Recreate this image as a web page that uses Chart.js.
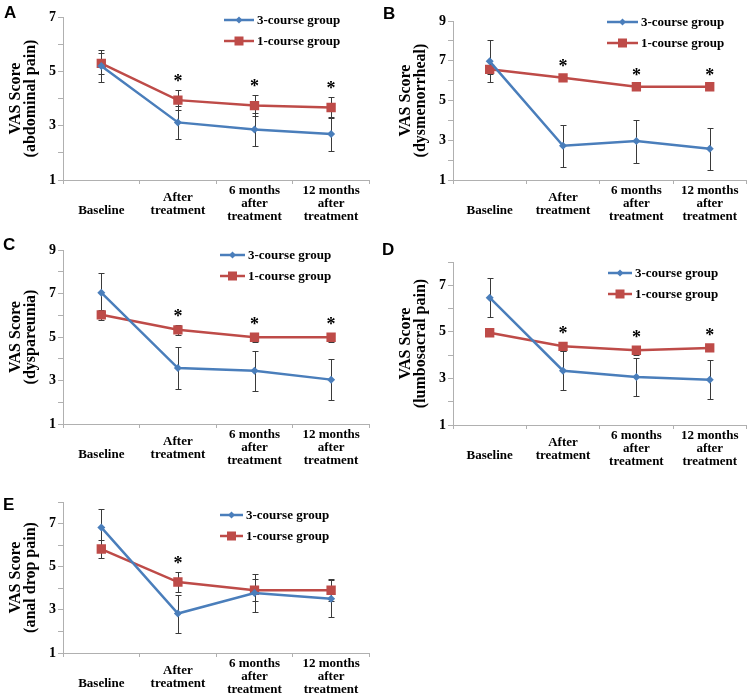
<!DOCTYPE html>
<html>
<head>
<meta charset="utf-8">
<script src="https://cdn.jsdelivr.net/npm/chart.js@4"></script>
<style>
  body { margin: 0; background: #fff; width: 753px; height: 695px; position: relative; overflow: hidden; }
  canvas { position: absolute; }
</style>
</head>
<body>
<canvas id="chartA" width="376" height="230" style="left:0;top:0"></canvas>
<canvas id="chartB" width="377" height="230" style="left:376px;top:0"></canvas>
<canvas id="chartC" width="376" height="240" style="left:0;top:230px"></canvas>
<canvas id="chartD" width="377" height="240" style="left:376px;top:230px"></canvas>
<canvas id="chartE" width="376" height="225" style="left:0;top:470px"></canvas>
<script>
// x categories (shared by all panels)
const categories = ['Baseline', ['After', 'treatment'], ['6 months', 'after', 'treatment'], ['12 months', 'after', 'treatment']];
const seriesNames = ['3-course group', '1-course group'];

// A: abdominal pain
const abdominal3 = [5.20, 3.12, 2.86, 2.69];
const abdominal3Err = [0.60, 0.60, 0.60, 0.62];
const abdominal1 = [5.29, 3.94, 3.74, 3.67];
const abdominal1Err = [0.40, 0.37, 0.39, 0.37];

// B: dysmenorrheal
const dysmen3 = [6.97, 2.72, 2.96, 2.57];
const dysmen3Err = [1.05, 1.05, 1.08, 1.07];
const dysmen1 = [6.57, 6.14, 5.69, 5.69];
const dysmen1Err = [0.22, 0.15, 0.15, 0.15];

// C: dyspareunia
const dyspar3 = [7.04, 3.57, 3.45, 3.04];
const dyspar3Err = [0.92, 0.95, 0.92, 0.95];
const dyspar1 = [6.02, 5.33, 4.99, 4.99];
const dyspar1Err = [0.23, 0.23, 0.20, 0.20];

// D: lumbosacral pain
const lumbo3 = [6.47, 3.33, 3.06, 2.94];
const lumbo3Err = [0.84, 0.83, 0.83, 0.84];
const lumbo1 = [4.96, 4.38, 4.21, 4.31];
const lumbo1Err = [0.15, 0.20, 0.20, 0.15];

// E: anal drop pain
const anal3 = [6.82, 2.83, 3.78, 3.52];
const anal3Err = [0.87, 0.88, 0.90, 0.87];
const anal1 = [5.82, 4.29, 3.91, 3.91];
const anal1Err = [0.43, 0.45, 0.50, 0.50];

// which time points carry a significance star
const starsAll = [false, true, true, true];
const starsAfterOnly = [false, true, false, false];

const BLUE = '#4a7ebb';
const RED = '#be4b48';
const AXIS = '#b0b0b0';
const SERIF = "'Liberation Serif', 'Times New Roman', serif";

function makePanel(id, opts) {
  const canvas = document.getElementById(id);
  const ctx = canvas.getContext('2d');

  const extras = {
    id: 'extras_' + id,
    beforeDatasetsDraw(chart) {
      // error bars
      const c = chart.ctx;
      const y = chart.scales.y;
      c.save();
      c.strokeStyle = '#3a3a3a';
      c.lineWidth = 1;
      chart.data.datasets.forEach((ds, di) => {
        const meta = chart.getDatasetMeta(di);
        meta.data.forEach((pt, i) => {
          const e = opts.errors[di][i];
          const top = Math.round(y.getPixelForValue(ds.data[i] + e)) + 0.5;
          const bot = Math.round(y.getPixelForValue(ds.data[i] - e)) + 0.5;
          const x = Math.round(pt.x) + 0.5;
          c.beginPath();
          c.moveTo(x, top); c.lineTo(x, bot);
          c.moveTo(x - 3, top); c.lineTo(x + 3, top);
          c.moveTo(x - 3, bot); c.lineTo(x + 3, bot);
          c.stroke();
        });
      });
      c.restore();
    },
    afterDraw(chart) {
      const c = chart.ctx;
      const y = chart.scales.y;
      c.save();
      // significance stars above the 1-course error bar
      c.fillStyle = '#000';
      c.font = 'bold 18px ' + SERIF;
      c.textAlign = 'center';
      c.textBaseline = 'alphabetic';
      const meta = chart.getDatasetMeta(1);
      opts.stars.forEach((s, i) => {
        if (!s) return;
        const v = opts.data[1][i] + opts.errors[1][i];
        c.fillText('*', meta.data[i].x, y.getPixelForValue(v) - 3);
      });

      // legend
      const lg = opts.legend;
      c.font = 'bold 13px ' + SERIF;
      c.textAlign = 'left';
      c.textBaseline = 'middle';
      [BLUE, RED].forEach((col, k) => {
        const ry = lg.y + k * 21;
        c.strokeStyle = col;
        c.lineWidth = 2.5;
        c.beginPath();
        c.moveTo(lg.x, ry); c.lineTo(lg.x + lg.len, ry);
        c.stroke();
        c.fillStyle = col;
        const mx = lg.x + lg.len / 2;
        if (k === 0) {
          c.beginPath();
          c.moveTo(mx, ry - 3.5); c.lineTo(mx + 3.5, ry); c.lineTo(mx, ry + 3.5); c.lineTo(mx - 3.5, ry);
          c.closePath(); c.fill();
        } else {
          c.fillRect(mx - 4.5, ry - 4.5, 9, 9);
        }
        c.fillStyle = '#000';
        c.fillText(seriesNames[k], lg.x + lg.len + 3, ry + 1);
      });

      // panel letter
      c.font = 'bold 17px "Liberation Sans", Arial, sans-serif';
      c.textBaseline = 'top';
      c.fillText(opts.letter, opts.letterPos[0], opts.letterPos[1]);
      c.restore();
    }
  };

  return new Chart(ctx, {
    type: 'line',
    data: {
      labels: categories,
      datasets: [{
        label: seriesNames[0],
        data: opts.data[0],
        borderColor: BLUE,
        backgroundColor: BLUE,
        borderWidth: 2.5,
        pointStyle: 'rectRot',
        pointRadius: 4,
        pointBorderWidth: 0,
        tension: 0
      }, {
        label: seriesNames[1],
        data: opts.data[1],
        borderColor: RED,
        backgroundColor: RED,
        borderWidth: 2.5,
        pointStyle: 'rect',
        pointRadius: 6.6,
        pointBorderWidth: 0,
        tension: 0
      }]
    },
    options: {
      responsive: false,
      animation: false,
      events: [],
      layout: { padding: { top: opts.pad.top, right: opts.pad.right, left: 0, bottom: 0 } },
      plugins: { legend: { display: false }, tooltip: { enabled: false } },
      scales: {
        x: {
          offset: true,
          grid: { offset: true, drawOnChartArea: false, color: AXIS, tickLength: 4 },
          border: { color: AXIS },
          ticks: {
            color: '#000',
            maxRotation: 0,
            autoSkip: false,
            padding: 7,
            crossAlign: 'center',
            font: { family: SERIF, size: 13, weight: 'bold', lineHeight: 1.0 },
            // single-line labels sit a line lower, as in the original figure
            callback(v, i) {
              const l = this.getLabelForValue(v);
              return Array.isArray(l) ? l : ['', l];
            }
          },
          afterFit(scale) { scale.height = opts.xHeight; }
        },
        y: {
          min: 1,
          max: opts.yMax,
          grid: { drawOnChartArea: false, color: AXIS, tickLength: 5 },
          border: { color: AXIS },
          ticks: {
            stepSize: 1,
            color: '#000',
            padding: 2,
            font: { family: SERIF, size: 14, weight: 'bold' },
            callback: v => (v % 2 === 1 ? v : '')
          },
          title: {
            display: true,
            text: ['VAS Score', opts.yTitle],
            color: '#000',
            padding: { top: opts.titlePad, bottom: 0 },
            font: { family: SERIF, size: 16, weight: 'bold', lineHeight: 0.9 }
          },
          afterFit(scale) { scale.width = opts.yWidth; }
        }
      }
    },
    plugins: [extras]
  });
}

makePanel('chartA', {
  data: [abdominal3, abdominal1], errors: [abdominal3Err, abdominal1Err], stars: starsAll,
  yMax: 7, yTitle: '(abdominal pain)', letter: 'A', letterPos: [4, 5],
  pad: { top: 17, right: 4 }, yWidth: 63, xHeight: 50, titlePad: 9,
  legend: { x: 224, y: 20, len: 30 }
});
makePanel('chartB', {
  data: [dysmen3, dysmen1], errors: [dysmen3Err, dysmen1Err], stars: starsAll,
  yMax: 9, yTitle: '(dysmenorrheal)', letter: 'B', letterPos: [7, 6],
  pad: { top: 21, right: 5 }, yWidth: 77, xHeight: 50, titlePad: 23,
  legend: { x: 231, y: 22, len: 31 }
});
makePanel('chartC', {
  data: [dyspar3, dyspar1], errors: [dyspar3Err, dyspar1Err], stars: starsAll,
  yMax: 9, yTitle: '(dyspareunia)', letter: 'C', letterPos: [3, 7],
  pad: { top: 20, right: 4 }, yWidth: 63, xHeight: 46, titlePad: 9,
  legend: { x: 220, y: 25, len: 25 }
});
makePanel('chartD', {
  data: [lumbo3, lumbo1], errors: [lumbo3Err, lumbo1Err], stars: starsAll,
  yMax: 8, yTitle: '(lumbosacral pain)', letter: 'D', letterPos: [6, 12],
  pad: { top: 32, right: 5 }, yWidth: 77, xHeight: 45, titlePad: 23,
  legend: { x: 232, y: 43, len: 24 }
});
makePanel('chartE', {
  data: [anal3, anal1], errors: [anal3Err, anal1Err], stars: starsAfterOnly,
  yMax: 8, yTitle: '(anal drop pain)', letter: 'E', letterPos: [3, 27],
  pad: { top: 32, right: 4 }, yWidth: 63, xHeight: 42, titlePad: 9,
  legend: { x: 220, y: 45, len: 23 }
});
</script>
</body>
</html>
